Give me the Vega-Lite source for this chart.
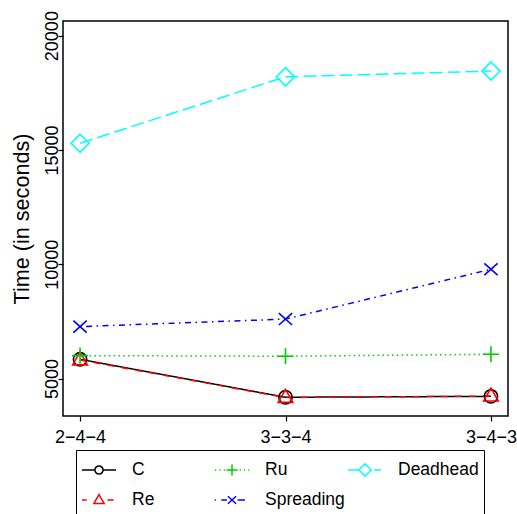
{
  "$schema": "https://vega.github.io/schema/vega-lite/v6.json",
  "width": 445,
  "height": 395,
  "autosize": {"type": "none"},
  "padding": {"left": 63, "top": 21, "right": 9, "bottom": 98},
  "background": "white",
  "config": {
    "font": "Liberation Sans",
    "view": {"stroke": "black", "strokeWidth": 1.5},
    "axis": {
      "grid": false,
      "domain": false,
      "tickColor": "black",
      "tickWidth": 1.2,
      "tickSize": 5,
      "labelColor": "black",
      "labelFont": "Liberation Sans",
      "labelFontSize": 18,
      "titleFont": "Liberation Sans",
      "titleFontWeight": "normal",
      "titleColor": "black"
    },
    "legend": {
      "orient": "none",
      "legendX": 13,
      "legendY": 429,
      "columns": 3,
      "gridAlign": "all",
      "strokeColor": "black",
      "padding": 5,
      "cornerRadius": 0,
      "labelFont": "Liberation Sans",
      "labelFontSize": 17.5,
      "labelColor": "black",
      "symbolSize": 1156,
      "symbolStrokeWidth": 1.5,
      "symbolOpacity": 1,
      "labelOffset": 15,
      "columnPadding": 1,
      "clipHeight": 30,
      "rowPadding": -7
    }
  },
  "data": {
    "values": [
      {"config": "2−4−4", "method": "C", "time": 5840},
      {"config": "3−3−4", "method": "C", "time": 4180},
      {"config": "3−4−3", "method": "C", "time": 4220},
      {"config": "2−4−4", "method": "Re", "time": 5810},
      {"config": "3−3−4", "method": "Re", "time": 4170},
      {"config": "3−4−3", "method": "Re", "time": 4230},
      {"config": "2−4−4", "method": "Ru", "time": 6000},
      {"config": "3−3−4", "method": "Ru", "time": 5975},
      {"config": "3−4−3", "method": "Ru", "time": 6060},
      {"config": "2−4−4", "method": "Spreading", "time": 7270},
      {"config": "3−3−4", "method": "Spreading", "time": 7600},
      {"config": "3−4−3", "method": "Spreading", "time": 9780},
      {"config": "2−4−4", "method": "Deadhead", "time": 15290},
      {"config": "3−3−4", "method": "Deadhead", "time": 18200},
      {"config": "3−4−3", "method": "Deadhead", "time": 18450}
    ]
  },
  "encoding": {
    "x": {
      "field": "config",
      "type": "ordinal",
      "scale": {"type": "point", "padding": 0.083, "domain": ["2−4−4", "3−3−4", "3−4−3"]},
      "axis": {"title": null, "labelAngle": 0, "labelPadding": 7.5}
    },
    "y": {
      "field": "time",
      "type": "quantitative",
      "scale": {"domain": [3360, 20640], "nice": false, "zero": false},
      "axis": {
        "title": "Time (in seconds)",
        "titleFontSize": 21.6,
        "titlePadding": 10,
        "values": [5000, 10000, 15000, 20000],
        "format": "d",
        "labelAngle": -90,
        "labelAlign": "center",
        "labelBaseline": "alphabetic",
        "labelPadding": 1
      }
    },
    "color": {
      "field": "method",
      "type": "nominal",
      "scale": {
        "domain": ["C", "Re", "Ru", "Spreading", "Deadhead"],
        "range": ["#000000", "#FF0000", "#00CD00", "#0000FF", "#00FFFF"]
      },
      "legend": null
    }
  },
  "layer": [
    {
      "mark": {"type": "line", "strokeWidth": 1.5},
      "encoding": {
        "strokeDash": {
          "field": "method",
          "type": "nominal",
          "scale": {
            "domain": ["C", "Re", "Ru", "Spreading", "Deadhead"],
            "range": [[1, 0], [7, 7], [1.5, 3.3], [1.5, 4.5, 6, 4.5], [13, 5]]
          },
          "legend": null
        }
      }
    },
    {
      "mark": {"type": "point", "filled": false, "size": 196, "strokeWidth": 1.6, "opacity": 1},
      "encoding": {
        "shape": {
          "field": "method",
          "type": "nominal",
          "scale": {
            "domain": ["C", "Re", "Ru", "Spreading", "Deadhead"],
            "range": [
              "M0.95,0A0.95,0.95,0,1,1,-0.95,0A0.95,0.95,0,1,1,0.95,0Z",
              "M0,-1.15L1.05,0.7L-1.05,0.7Z",
              "M-1.15,0L1.15,0M0,-1.15L0,1.15",
              "M-0.95,-0.85L0.95,0.85M-0.95,0.85L0.95,-0.85",
              "M0,-1.3L1.3,0L0,1.3L-1.3,0Z"
            ]
          },
          "legend": null
        }
      }
    },
    {
      "transform": [{"filter": "false"}],
      "mark": {"type": "point", "filled": false, "strokeWidth": 1.5, "opacity": 1},
      "encoding": {
        "color": {
          "field": "method",
          "type": "nominal",
          "legend": {"title": null}
        },
        "shape": {
          "field": "method",
          "type": "nominal",
          "scale": {
            "domain": ["C", "Re", "Ru", "Spreading", "Deadhead"],
            "range": [
              "M-1,0L-0.26,0M0.26,0L1,0M0.24,0A0.24,0.24,0,1,1,-0.24,0A0.24,0.24,0,1,1,0.24,0Z",
              "M-1,0L-0.72,0M0.5,0L0.86,0M0,-0.32L0.3,0.2L-0.3,0.2Z",
              "M-1,0L-0.93,0M-0.74,0L-0.67,0M-0.48,0L-0.41,0M0.45,0L0.52,0M0.7,0L0.77,0M0.95,0L1.02,0M-0.33,0L0.33,0M0,-0.33L0,0.33",
              "M-1.02,0L-0.95,0M-0.63,0L-0.3,0M0.33,0L0.76,0M-0.24,-0.22L0.24,0.22M-0.24,0.22L0.24,-0.22",
              "M-1,0L-0.38,0M0.54,0L0.94,0M0,-0.36L0.36,0L0,0.36L-0.36,0Z"
            ]
          },
          "legend": {"title": null}
        }
      }
    }
  ],
  "resolve": {
    "scale": {"shape": "independent"},
    "legend": {"color": "independent", "shape": "independent"}
  }
}
